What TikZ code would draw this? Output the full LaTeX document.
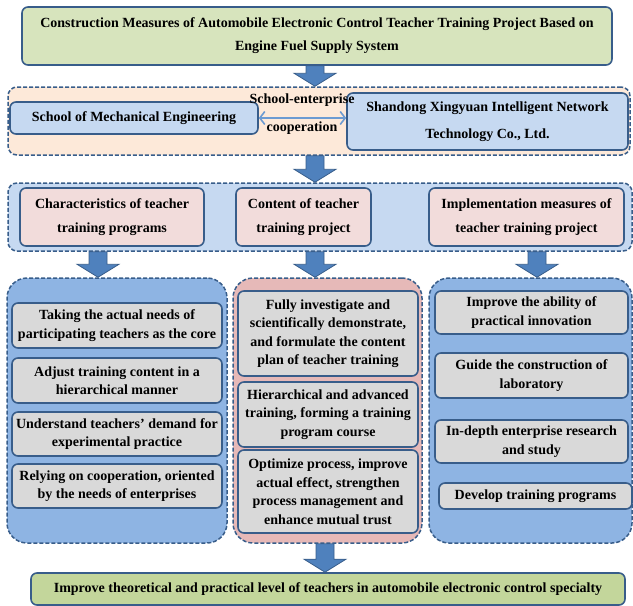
\documentclass[tikz,border=0pt]{standalone}
\usepackage{fontspec}
\setmainfont{Liberation Serif}
\usetikzlibrary{calc,arrows.meta}
\definecolor{bord}{HTML}{385D8A}
\definecolor{arrowfill}{HTML}{4F81BD}
\definecolor{dblarrow}{HTML}{6C9BD2}
\definecolor{titlegreen}{HTML}{D7E4BD}
\definecolor{finalgreen}{HTML}{C3D69B}
\definecolor{peach}{HTML}{FDE9D9}
\definecolor{lightblue}{HTML}{C6D9F1}
\definecolor{pinkbox}{HTML}{F2DCDB}
\definecolor{midblue}{HTML}{8EB4E3}
\definecolor{midpink}{HTML}{E6B9B8}
\definecolor{graybox}{HTML}{D9D9D9}
\newcommand\bx[7][]{\node[#1, minimum width={(#5-#3)*1pt}, minimum height={(#6-#4)*1pt}] (#2) at ({(#3+#5)/2},{(#4+#6)/2}) {#7};}
\newcommand\barrow[2]{\draw[barrowstyle] let \p1=(#1), \p2=(#2) in (\x1-9pt,\y1) -- (\x1+9pt,\y1) -- (\x1+9pt,\y2+13pt) -- (\x1+21pt,\y2+13pt) -- (\x1,\y2) -- (\x1-21pt,\y2+13pt) -- (\x1-9pt,\y2+13pt) -- cycle;}
\tikzset{
  solidbox/.style={draw=bord, line width=1.6pt, rounded corners=6pt, inner sep=0pt, align=center, font=\bfseries\fontsize{14}{18.5}\selectfont},
  band/.style={draw=bord, line width=1.5pt, dash pattern=on 4pt off 2pt, rounded corners=9pt, inner sep=0pt},
  panel/.style={draw=bord, line width=1.5pt, dash pattern=on 4pt off 2pt, rounded corners=20pt, inner sep=0pt},
  barrowstyle/.style={fill=arrowfill, draw=bord, line width=0.8pt, line join=miter},
  wide/.style={font=\bfseries\fontsize{14}{24}\selectfont},
}
\begin{document}
\begin{tikzpicture}[x=1pt,y=-1pt]
\useasboundingbox (0,0) rectangle (633,606);
% title
\bx[solidbox, fill=titlegreen, font=\bfseries\fontsize{14}{23}\selectfont]{top}{22}{7}{612}{65}{Construction Measures of Automobile Electronic Control Teacher Training Project Based on\\Engine Fuel Supply System}
% band 2
\bx[band, fill=peach]{band2}{8}{87}{630}{155}{}
\bx[solidbox, fill=lightblue]{school}{10}{102}{258}{134}{School of Mechanical Engineering}
\bx[solidbox, fill=lightblue, font=\bfseries\fontsize{14}{27}\selectfont]{shandong}{347}{93}{628}{150}{Shandong Xingyuan Intelligent Network\\Technology Co., Ltd.}
\node[font=\bfseries\fontsize{14}{16}\selectfont, inner sep=0pt] (coop1) at (302,100) {School-enterprise};
\node[font=\bfseries\fontsize{14}{16}\selectfont, inner sep=0pt] (coop2) at (302,128) {cooperation};
\draw[dblarrow, line width=1.6pt, <->, >={Straight Barb[length=5pt,width=13pt]}] (school.east) -- (school.east -| shandong.west);
% band 3
\bx[band, fill=lightblue]{band3}{8}{183}{632}{251}{}
\bx[solidbox, fill=pinkbox, wide]{charb}{20}{188}{204}{246}{Characteristics of teacher\\training programs}
\bx[solidbox, fill=pinkbox, wide]{contb}{236}{188}{371}{246}{Content of teacher\\training project}
\bx[solidbox, fill=pinkbox, wide]{implb}{429}{188}{624}{246}{Implementation measures of\\teacher training project}
% panels
\bx[panel, fill=midblue]{lpanel}{7}{278}{227}{543}{}
\bx[panel, fill=midpink]{mpanel}{233}{278}{422}{543}{}
\bx[panel, fill=midblue]{rpanel}{429}{278}{632}{543}{}
% left boxes
\bx[solidbox, fill=graybox]{l1}{12}{303}{222}{348}{Taking the actual needs of\\participating teachers as the core}
\bx[solidbox, fill=graybox]{l2}{12}{358}{222}{403}{Adjust training content in a\\hierarchical manner}
\bx[solidbox, fill=graybox]{l3}{12}{412}{222}{456}{Understand teachers' demand for\\experimental practice}
\bx[solidbox, fill=graybox]{l4}{12}{464}{222}{508}{Relying on cooperation, oriented\\by the needs of enterprises}
% middle boxes
\bx[solidbox, fill=graybox]{m1}{238}{291}{418}{376}{Fully investigate and\\scientifically demonstrate,\\and formulate the content\\plan of teacher training}
\bx[solidbox, fill=graybox]{m2}{238}{382}{418}{447}{Hierarchical and advanced\\training, forming a training\\program course}
\bx[solidbox, fill=graybox]{m3}{238}{450}{418}{533}{Optimize process, improve\\actual effect, strengthen\\process management and\\enhance mutual trust}
% right boxes
\bx[solidbox, fill=graybox]{r1}{435}{291}{628}{334}{Improve the ability of\\practical innovation}
\bx[solidbox, fill=graybox]{r2}{435}{353}{628}{398}{Guide the construction of\\laboratory}
\bx[solidbox, fill=graybox]{r3}{435}{420}{628}{463}{In-depth enterprise research\\and study}
\bx[solidbox, fill=graybox]{r4}{439}{483}{632}{509}{Develop training programs}
% final
\bx[solidbox, fill=finalgreen, font=\bfseries\fontsize{14}{16}\selectfont]{final}{31}{573}{625}{605}{Improve theoretical and practical level of teachers in automobile electronic control specialty}
% block arrows
\coordinate (xa) at (315,0);
\coordinate (xl) at (98,0);
\coordinate (xr) at (537,0);
\coordinate (xb) at (325,0);
\barrow{top.south -| xa}{band2.north -| xa}
\barrow{band2.south -| xa}{band3.north -| xa}
\barrow{band3.south -| xl}{lpanel.north -| xl}
\barrow{band3.south -| xa}{mpanel.north -| xa}
\barrow{band3.south -| xr}{rpanel.north -| xr}
\barrow{mpanel.south -| xb}{final.north -| xb}
\end{tikzpicture}
\end{document}
